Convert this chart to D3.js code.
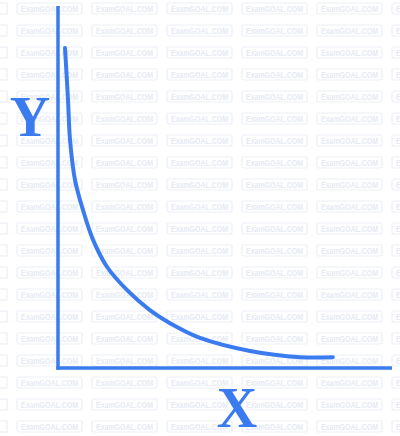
<!DOCTYPE html>
<html lang="en">
<head>
<meta charset="utf-8">
<title>curve</title>
<script src="https://cdn.jsdelivr.net/npm/d3@7"></script>
<style>
  body { margin: 0; background: #fff; }
  svg { display: block; }
</style>
</head>
<body>
<script>
// curve points, in axis units (x 0..10, y 0..10)
var curveX = [0.21, 0.30, 0.36, 0.51, 0.75, 1.05, 1.47, 2.07, 2.75, 3.56, 4.25, 5.75, 7.25, 8.23];
var curveY = [8.84, 7.40, 6.30, 5.19, 4.36, 3.54, 2.79, 2.15, 1.60, 1.13, 0.83, 0.47, 0.30, 0.30];
var axisLabels = ["X", "Y"];
var watermark = "ExamGOAL.COM";

var w = 400, h = 436;
var blue = "#3a7bf0";

var svg = d3.select("body").append("svg")
  .attr("width", w)
  .attr("height", h);

// background watermark grid
var wm = svg.append("g");
for (var r = 0; r < 20; r++) {
  for (var c = 0; c < 6; c++) {
    var bx = 17 + c * 75, by = 3 + r * 22;
    wm.append("rect")
      .attr("x", bx).attr("y", by)
      .attr("width", 65).attr("height", 11)
      .attr("rx", 1.5)
      .attr("fill", "none")
      .attr("stroke", "#eceff8")
      .attr("stroke-width", 1.2);
    wm.append("text")
      .attr("x", bx + 4).attr("y", by + 8.8)
      .attr("textLength", 57)
      .attr("lengthAdjust", "spacingAndGlyphs")
      .style("font-family", "Liberation Sans, Arial, sans-serif")
      .style("font-size", "9px")
      .style("font-weight", "bold")
      .attr("fill", "#e6eaf4")
      .text(watermark);
  }
  // partial box at the left edge
  wm.append("rect")
    .attr("x", -58).attr("y", 3 + r * 22)
    .attr("width", 65).attr("height", 11)
    .attr("fill", "none")
    .attr("stroke", "#eceff8")
    .attr("stroke-width", 1.2);
}

var xScale = d3.scaleLinear().domain([0, 10]).range([58, 392]);
var yScale = d3.scaleLinear().domain([0, 10]).range([368, 6]);

// axes
svg.append("line")
  .attr("x1", xScale(0)).attr("x2", xScale(0))
  .attr("y1", yScale(10)).attr("y2", yScale(-0.05))
  .attr("stroke", blue).attr("stroke-width", 3.5);

svg.append("line")
  .attr("x1", xScale(-0.05)).attr("x2", xScale(10))
  .attr("y1", yScale(0)).attr("y2", yScale(0))
  .attr("stroke", blue).attr("stroke-width", 3.5);

// curve
var pts = curveX.map(function(d, i) { return [d, curveY[i]]; });
var line = d3.line()
  .x(function(d) { return xScale(d[0]); })
  .y(function(d) { return yScale(d[1]); })
  .curve(d3.curveCatmullRom);

svg.append("path")
  .datum(pts)
  .attr("d", line)
  .attr("fill", "none")
  .attr("stroke", blue)
  .attr("stroke-width", 4)
  .attr("stroke-linecap", "round");

// axis labels
svg.append("text")
  .attr("x", 237).attr("y", 427)
  .attr("text-anchor", "middle")
  .style("font-family", "Liberation Serif, Times New Roman, serif")
  .style("font-weight", "bold")
  .style("font-size", "56px")
  .attr("fill", blue)
  .text(axisLabels[0]);

svg.append("text")
  .attr("x", 30).attr("y", 136)
  .attr("text-anchor", "middle")
  .style("font-family", "Liberation Serif, Times New Roman, serif")
  .style("font-weight", "bold")
  .style("font-size", "56px")
  .attr("fill", blue)
  .text(axisLabels[1]);
</script>
</body>
</html>
